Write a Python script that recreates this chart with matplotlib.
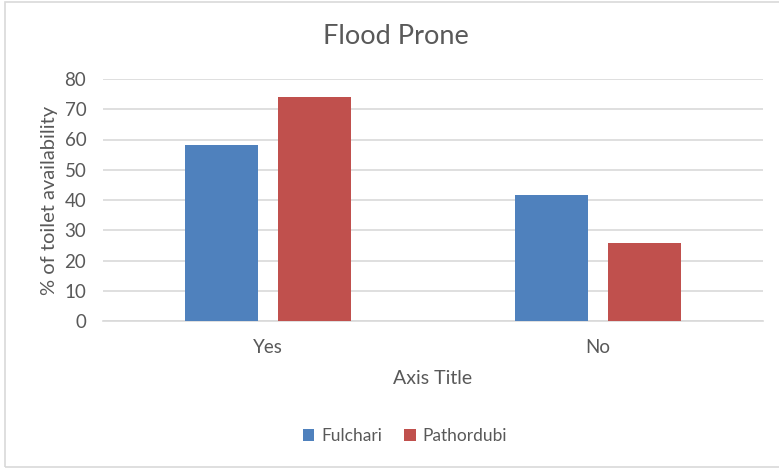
import numpy as np
import matplotlib.pyplot as plt
from matplotlib.patches import Rectangle

plt.rcParams['font.family'] = ['Lato', 'DejaVu Sans']

categories = ['Yes', 'No']
fulchari = [58.2, 41.8]
pathordubi = [74.2, 25.8]

text_color = '#595959'
grid_color = '#D9D9D9'

fig = plt.figure(figsize=(7.79, 4.70), dpi=100)
ax = fig.add_axes([103/779, 1-321/470, (763-103)/779, (321-79)/470])

x = np.arange(len(categories))
w = 0.222
off = 0.142
ax.bar(x - off, fulchari, w, color='#4F81BD', label='Fulchari', zorder=3)
ax.bar(x + off, pathordubi, w, color='#C0504D', label='Pathordubi', zorder=3)

ax.set_xlim(-0.5, 1.5)
ax.set_ylim(0, 80)
ax.set_yticks(range(0, 81, 10))
ax.set_xticks(x)
ax.set_xticklabels(categories)
ax.yaxis.grid(True, color=grid_color, lw=1.2, zorder=0)
for s in ['top', 'right', 'left']:
    ax.spines[s].set_visible(False)
ax.spines['bottom'].set_color(grid_color)
ax.spines['bottom'].set_linewidth(1.2)
ax.tick_params(axis='both', length=0, labelsize=13.5, colors=text_color)
ax.tick_params(axis='y', pad=12)
ax.tick_params(axis='x', pad=13)

ax.set_xlabel('Axis Title', fontsize=14, color=text_color, labelpad=10)
ax.set_ylabel('% of toilet availability', fontsize=14.5, color=text_color, labelpad=5)
fig.text(396/779, 1 - 36/470, 'Flood Prone', fontsize=19.5,
         color=text_color, ha='center', va='center')

fig.legend(loc='center', bbox_to_anchor=(405/779, 1 - 436/470), ncol=2, frameon=False,
           fontsize=12.5, labelcolor=text_color, handlelength=0.65, handleheight=0.65,
           handletextpad=0.4, columnspacing=1.3)

# chart outline
fig.patches.append(Rectangle((5/779, 3/470), 1.0, 1 - 5/470, transform=fig.transFigure,
                             fill=False, edgecolor=grid_color, lw=1.2))

fig.savefig('out.png', dpi=100)
